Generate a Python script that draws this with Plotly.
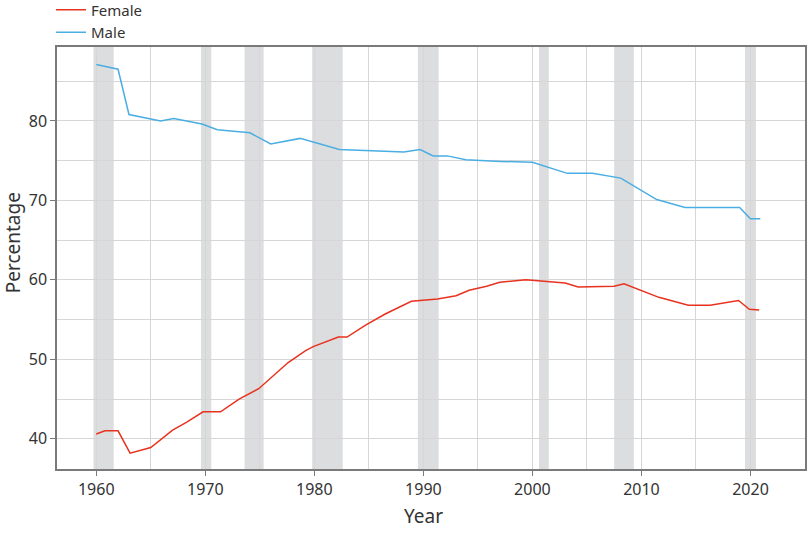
import plotly.graph_objects as go

male_years = [1960.0, 1962.0, 1963.0, 1965.9, 1967.1, 1969.7, 1971.1, 1974.1, 1976.0, 1978.7,
              1982.3, 1988.2, 1989.7, 1990.9, 1992.2, 1993.9, 1997.1, 2000.0, 2003.2, 2005.5,
              2008.1, 2011.4, 2014.0, 2019.0, 2020.0, 2020.9]
male_values = [87.1, 86.5, 80.8, 80.0, 80.3, 79.6, 78.9, 78.5, 77.1, 77.8,
               76.4, 76.1, 76.4, 75.6, 75.6, 75.1, 74.9, 74.8, 73.4, 73.4,
               72.8, 70.1, 69.1, 69.1, 67.7, 67.7]

female_years = [1960.0, 1960.8, 1962.0, 1963.1, 1965.0, 1967.0, 1968.3, 1969.8, 1971.4, 1973.1,
                1974.9, 1976.1, 1977.6, 1979.2, 1979.9, 1982.2, 1983.0, 1984.7, 1986.5, 1988.9,
                1991.3, 1993.0, 1994.2, 1995.8, 1997.0, 1999.4, 2001.0, 2003.0, 2004.2, 2007.5,
                2008.4, 2009.9, 2011.6, 2014.3, 2016.3, 2018.9, 2019.9, 2020.8]
female_values = [40.6, 41.0, 41.0, 38.2, 38.9, 41.1, 42.1, 43.4, 43.4, 45.0,
                 46.3, 47.8, 49.6, 51.1, 51.6, 52.8, 52.8, 54.3, 55.7, 57.3,
                 57.6, 58.0, 58.7, 59.2, 59.7, 60.0, 59.8, 59.6, 59.1, 59.2,
                 59.5, 58.7, 57.8, 56.8, 56.8, 57.4, 56.3, 56.2]

recession_starts = [1959.75, 1969.6, 1973.6, 1979.8, 1989.5, 2000.6, 2007.5, 2019.5]
recession_ends = [1961.6, 1970.55, 1975.35, 1982.6, 1991.4, 2001.5, 2009.3, 2020.5]

FONT = "Noto Sans"
TEXT = "#333333"

fig = go.Figure()
fig.add_trace(go.Scatter(x=female_years, y=female_values, mode="lines", name="Female",
                         line=dict(color="#e8321e", width=1.5)))
fig.add_trace(go.Scatter(x=male_years, y=male_values, mode="lines", name="Male",
                         line=dict(color="#4aaee3", width=1.5)))

for s, e in zip(recession_starts, recession_ends):
    fig.add_shape(type="rect", xref="x", yref="paper", x0=s, x1=e, y0=0, y1=1,
                  fillcolor="#dcdddf", line=dict(width=0), layer="below")

axis_common = dict(
    showline=True, linecolor="#7a7a7a", linewidth=1.5, mirror=True,
    showgrid=True, gridcolor="#d6d6d6", gridwidth=1,
    ticks="outside", ticklen=5, tickcolor="#7a7a7a",
    tickfont=dict(family=FONT, size=16, color=TEXT),
    zeroline=False, automargin=False,
)

fig.update_xaxes(range=[1956.4, 2025.0], tick0=1960, dtick=10,
                 minor=dict(dtick=5, tick0=1960, showgrid=True, gridcolor="#d6d6d6", ticks=""),
                 **axis_common)
fig.update_yaxes(range=[36.2, 89.3], tick0=40, dtick=10,
                 minor=dict(dtick=5, tick0=40, showgrid=True, gridcolor="#d6d6d6", ticks=""),
                 **axis_common)

fig.add_annotation(text="Year", xref="paper", yref="paper", x=0.4906, y=-0.111,
                   xanchor="center", yanchor="middle", showarrow=False,
                   font=dict(family=FONT, size=19, color=TEXT))
fig.add_annotation(text="Percentage", xref="paper", yref="paper", x=-0.0595, y=0.536,
                   xanchor="center", yanchor="middle", showarrow=False, textangle=-90,
                   font=dict(family=FONT, size=19, color=TEXT))

fig.update_layout(
    width=810, height=534,
    margin=dict(l=57, r=5, t=47, b=65, autoexpand=False),
    plot_bgcolor="white", paper_bgcolor="white",
    font=dict(family=FONT, color=TEXT),
    legend=dict(x=-0.008, xanchor="left", xref="paper", y=1.127, yref="paper", yanchor="top",
                orientation="v", font=dict(family=FONT, size=15, color=TEXT),
                bgcolor="rgba(0,0,0,0)", tracegroupgap=0, itemwidth=30),
    showlegend=True,
)

fig.write_html("out.html", config={"displayModeBar": False},
               post_script="document.body.style.margin='0';")
